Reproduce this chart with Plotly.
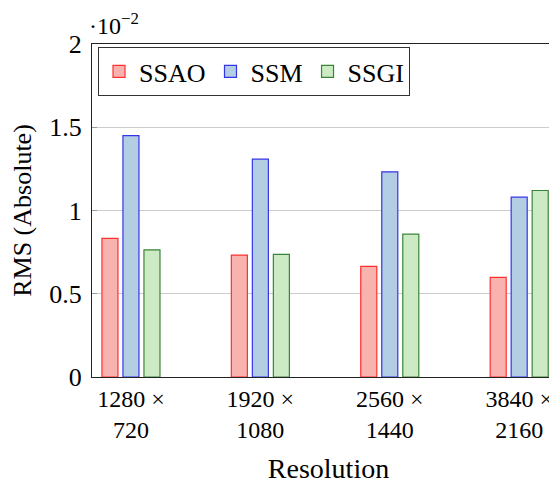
import plotly.graph_objects as go

categories = ["1280 ×<br>720", "1920 ×<br>1080", "2560 ×<br>1440", "3840 ×<br>2160"]
ssao = [0.832, 0.732, 0.664, 0.598]
ssm = [1.450, 1.308, 1.232, 1.080]
ssgi = [0.764, 0.736, 0.858, 1.120]
y_ticks = [0, 0.5, 1, 1.5, 2]
y_ticklabels = ["0", "0.5", "1", "1.5", "2"]

FONT = "Liberation Serif"

fig = go.Figure()
series = [
    ("SSAO", ssao, "#f9b3ae", "#ff3030"),
    ("SSM", ssm, "#b3cde3", "#3535e8"),
    ("SSGI", ssgi, "#ccebc5", "#3a843a"),
]
for name, vals, fill, line in series:
    fig.add_trace(go.Bar(
        x=categories, y=vals, name=name,
        marker=dict(color=fill, line=dict(color=line, width=1.2)),
    ))

fig.update_layout(
    width=557, height=483,
    margin=dict(l=84, r=0, t=36, b=114, autoexpand=False),
    paper_bgcolor="white", plot_bgcolor="white",
    barmode="group", bargap=0.513, bargroupgap=0.237,
    font=dict(family=FONT, size=24, color="black"),
    showlegend=True,
    legend=dict(
        orientation="h", x=0.0127, y=0.991, xanchor="left", yanchor="top",
        bordercolor="#333333", borderwidth=1, bgcolor="white",
        font=dict(family=FONT, size=26), itemwidth=30, tracegroupgap=0,
    ),
    xaxis=dict(
        type="category", range=[-0.301, 3.354], automargin=False,
        showline=True, linecolor="#222222", linewidth=1.2, mirror=True,
        ticks="", showgrid=False,
        tickfont=dict(family=FONT, size=24),
        title=dict(text="Resolution", font=dict(family=FONT, size=28), standoff=16),
    ),
    yaxis=dict(
        range=[0, 2], tickvals=y_ticks, ticktext=y_ticklabels, automargin=False,
        showline=True, linecolor="#222222", linewidth=1.2,
        ticks="inside", ticklen=5, tickcolor="#999999",
        showgrid=True, gridcolor="#cccccc", gridwidth=1,
        zeroline=False, ticklabelstandoff=4,
        tickfont=dict(family=FONT, size=26),
        title=dict(text="RMS (Absolute)", font=dict(family=FONT, size=26), standoff=16),
    ),
    annotations=[dict(
        text="·10<sup>−2</sup>", xref="paper", yref="paper",
        x=-0.01, y=1.008, xanchor="left", yanchor="bottom",
        showarrow=False, font=dict(family=FONT, size=24),
    )],
)

fig.write_html("out.html")
